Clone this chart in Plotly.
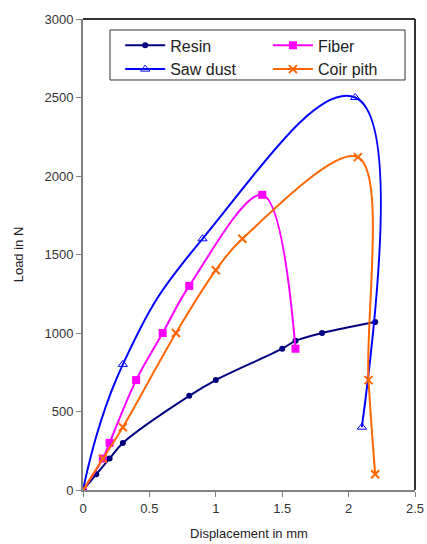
import plotly.graph_objects as go

resin_x = [0, 0.1, 0.2, 0.3, 0.8, 1.0, 1.5, 1.6, 1.8, 2.2]
resin_y = [0, 100, 200, 300, 600, 700, 900, 950, 1000, 1070]
fiber_x = [0, 0.15, 0.2, 0.4, 0.6, 0.8, 1.35, 1.6]
fiber_y = [0, 200, 300, 700, 1000, 1300, 1880, 900]
saw_x = [0, 0.3, 0.9, 2.05, 2.1]
saw_y = [0, 800, 1600, 2500, 400]
coir_x = [0, 0.15, 0.3, 0.7, 1.0, 1.2, 2.07, 2.15, 2.2]
coir_y = [0, 200, 400, 1000, 1400, 1600, 2120, 700, 100]

fig = go.Figure()
fig.add_trace(go.Scatter(x=resin_x, y=resin_y, name="Resin", mode="lines+markers", legend="legend",
                         line=dict(color="#000080", width=2, shape="spline", smoothing=1.0),
                         marker=dict(symbol="circle", size=6, color="#000080")))
fig.add_trace(go.Scatter(x=fiber_x, y=fiber_y, name="Fiber", mode="lines+markers", legend="legend2",
                         line=dict(color="#FF00FF", width=2, shape="spline", smoothing=1.0),
                         marker=dict(symbol="square", size=8, color="#FF00FF")))
fig.add_trace(go.Scatter(x=saw_x, y=saw_y, name="Saw dust", mode="lines+markers", legend="legend",
                         line=dict(color="#0000FF", width=2, shape="spline", smoothing=1.3),
                         marker=dict(symbol="triangle-up-open", size=8, color="#0000FF")))
fig.add_trace(go.Scatter(x=coir_x, y=coir_y, name="Coir pith", mode="lines+markers", legend="legend2",
                         line=dict(color="#FF6600", width=2, shape="spline", smoothing=1.0),
                         marker=dict(symbol="x-thin-open", size=8, color="#FF6600",
                                     line=dict(width=2, color="#FF6600"))))

axis_common = dict(showgrid=False, zeroline=False, ticks="outside", ticklen=5,
                   tickcolor="#808080", linecolor="#808080", linewidth=2, automargin=False,
                   tickfont=dict(family="Liberation Sans, Arial", size=13, color="#333333"))

legend_common = dict(orientation="v", yanchor="top", xanchor="left",
                     bgcolor="rgba(0,0,0,0)", borderwidth=0, tracegroupgap=0, itemwidth=40,
                     font=dict(family="Liberation Sans, Arial", size=16, color="#222222"))

fig.update_layout(
    width=427, height=544,
    margin=dict(l=83, r=12, t=19, b=54),
    paper_bgcolor="white", plot_bgcolor="white",
    font=dict(family="Liberation Sans, Arial", size=13, color="#222222"),
    xaxis=dict(range=[0, 2.5], tickvals=[0, 0.5, 1, 1.5, 2, 2.5],
               ticktext=["0", "0.5", "1", "1.5", "2", "2.5"],
               title=dict(text="Displacement in mm", standoff=14, font=dict(size=13)),
               **axis_common),
    yaxis=dict(range=[0, 3000], tickvals=[0, 500, 1000, 1500, 2000, 2500, 3000],
               title=dict(text="Load in N", standoff=18, font=dict(size=13)),
               **axis_common),
    legend=dict(x=0.112, y=0.98, **legend_common),
    legend2=dict(x=0.557, y=0.98, **legend_common),
    showlegend=True,
)
# legend frame
fig.add_shape(type="rect", xref="paper", yref="paper", x0=0.0813, x1=0.970, y0=0.8705, y1=0.9766,
              line=dict(color="#333333", width=1), fillcolor="white", layer="below")
fig.add_shape(type="line", xref="paper", yref="paper", x0=0, x1=1, y0=1, y1=1,
              line=dict(color="#333333", width=2))
fig.add_shape(type="line", xref="paper", yref="paper", x0=1, x1=1, y0=0, y1=1,
              line=dict(color="#333333", width=2))

fig.write_html("out.html")
